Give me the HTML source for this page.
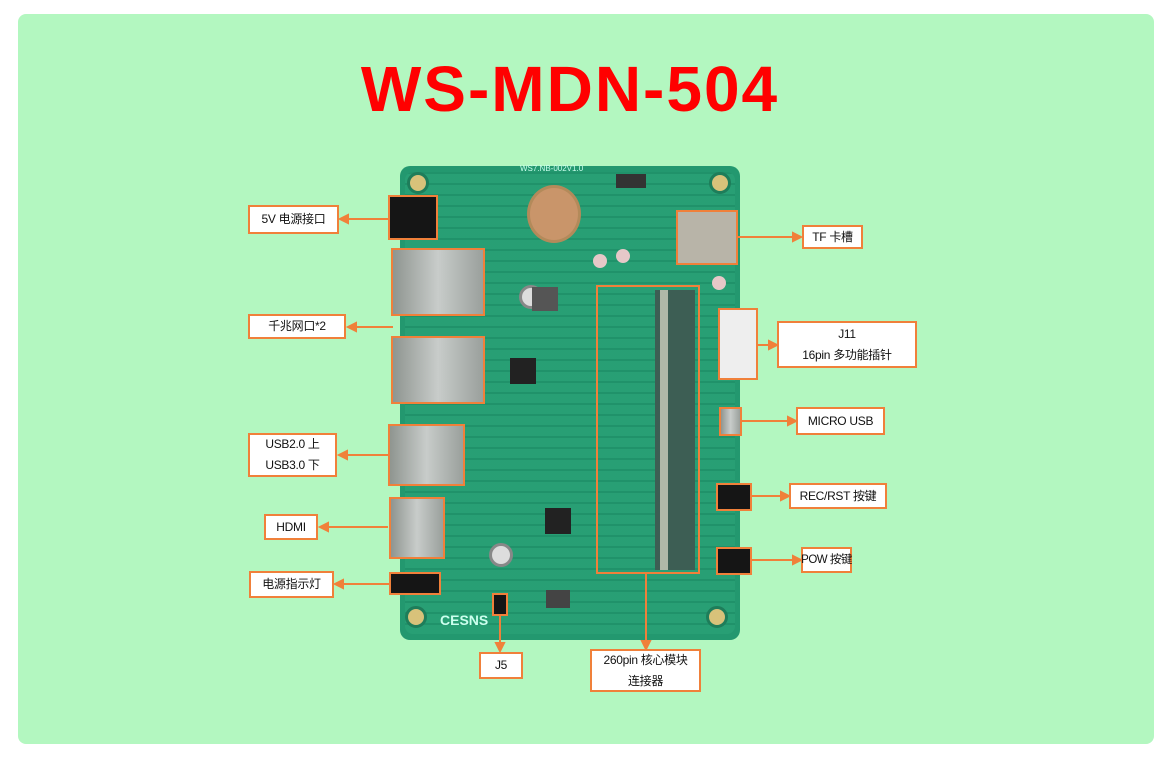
<!DOCTYPE html>
<html><head><meta charset="utf-8"><style>
body{margin:0;width:1171px;height:758px;background:#fff;position:relative;overflow:hidden;font-family:"Liberation Sans","Noto Sans CJK SC",sans-serif}
.a{position:absolute}
.panel{left:18px;top:14px;width:1136px;height:730px;background:#b3f7c0;border-radius:8px}
.title{left:0;width:1140px;top:52px;text-align:center;color:#f00;font-weight:bold;font-size:64px;letter-spacing:2px}
.lb{position:absolute;background:#fff;border:2px solid #f0803a;font-size:12px;color:#111;display:flex;align-items:center;justify-content:center;text-align:center;line-height:21px;box-sizing:border-box;white-space:nowrap;letter-spacing:-0.3px}
.silver{background:linear-gradient(90deg,#8f9590,#c8ccca 50%,#9aa09c);border:2px solid #f0803a;box-sizing:border-box}
.blk{background:#151515;border:2px solid #f0803a;box-sizing:border-box}
.hole{border-radius:50%;background:#d8c27a;border:3px solid #1e7d5a;box-sizing:border-box}
</style></head><body>
<div class="a panel"></div>
<div class="a title">WS-MDN-504</div>
<div class="a" style="left:400px;top:166px;width:340px;height:474px;background:#23986f;border-radius:10px"></div>
<div class="a" style="left:405px;top:172px;width:330px;height:462px;background:repeating-linear-gradient(0deg,#2aa277 0 9px,#1f8f68 9px 11px);opacity:.7;border-radius:8px"></div>
<div class="a hole" style="left:407px;top:172px;width:22px;height:22px"></div>
<div class="a hole" style="left:709px;top:172px;width:22px;height:22px"></div>
<div class="a hole" style="left:405px;top:606px;width:22px;height:22px"></div>
<div class="a hole" style="left:706px;top:606px;width:22px;height:22px"></div>
<div class="a" style="left:527px;top:185px;width:48px;height:52px;border-radius:50%;background:#c9956a;border:3px solid #b38a5a"></div>
<div class="a" style="left:519px;top:285px;width:18px;height:18px;border-radius:50%;background:#ddd;border:3px solid #888"></div>
<div class="a" style="left:489px;top:543px;width:18px;height:18px;border-radius:50%;background:#ddd;border:3px solid #888"></div>
<div class="a" style="left:510px;top:358px;width:26px;height:26px;background:#222"></div>
<div class="a" style="left:545px;top:508px;width:26px;height:26px;background:#222"></div>
<div class="a" style="left:532px;top:287px;width:26px;height:24px;background:#555"></div>
<div class="a" style="left:593px;top:254px;width:14px;height:14px;border-radius:50%;background:#e6c8c8"></div>
<div class="a" style="left:616px;top:249px;width:14px;height:14px;border-radius:50%;background:#e6c8c8"></div>
<div class="a" style="left:712px;top:276px;width:14px;height:14px;border-radius:50%;background:#e6c8c8"></div>
<div class="a" style="left:616px;top:174px;width:30px;height:14px;background:#333"></div>
<div class="a" style="left:440px;top:612px;color:#cfe;font-weight:bold;font-size:14px">CESNS</div>
<div class="a" style="left:520px;top:164px;color:#cfe;font-size:8px">WS7.NB-002V1.0</div>
<div class="a" style="left:546px;top:590px;width:24px;height:18px;background:#444"></div>
<div class="a blk" style="left:388px;top:195px;width:50px;height:45px"></div>
<div class="a silver" style="left:391px;top:248px;width:94px;height:68px"></div>
<div class="a silver" style="left:391px;top:336px;width:94px;height:68px"></div>
<div class="a silver" style="left:388px;top:424px;width:77px;height:62px"></div>
<div class="a silver" style="left:389px;top:497px;width:56px;height:62px"></div>
<div class="a blk" style="left:389px;top:572px;width:52px;height:23px"></div>
<div class="a blk" style="left:492px;top:593px;width:16px;height:23px"></div>
<div class="a silver" style="left:676px;top:210px;width:62px;height:55px;background:#b8b4a8"></div>
<div class="a" style="left:718px;top:308px;width:40px;height:72px;background:#eee;border:2px solid #f0803a;box-sizing:border-box"></div>
<div class="a silver" style="left:719px;top:407px;width:23px;height:29px"></div>
<div class="a blk" style="left:716px;top:483px;width:36px;height:28px"></div>
<div class="a blk" style="left:716px;top:547px;width:36px;height:28px"></div>
<div class="a" style="left:596px;top:285px;width:104px;height:289px;border:2px solid #f0803a;box-sizing:border-box"></div>
<div class="a" style="left:655px;top:290px;width:40px;height:280px;background:#3d5e54"></div>
<div class="a" style="left:660px;top:290px;width:8px;height:280px;background:#b0b8a8"></div>
<svg class="a" style="left:0;top:0" width="1171" height="758">
<g stroke="#f0803a" stroke-width="2" fill="#f0803a">
<line x1="388" y1="219" x2="345" y2="219"/><polygon points="340,219 348,215 348,223"/>
<line x1="393" y1="327" x2="353" y2="327"/><polygon points="348,327 356,323 356,331"/>
<line x1="388" y1="455" x2="344" y2="455"/><polygon points="339,455 347,451 347,459"/>
<line x1="388" y1="527" x2="325" y2="527"/><polygon points="320,527 328,523 328,531"/>
<line x1="389" y1="584" x2="340" y2="584"/><polygon points="335,584 343,580 343,588"/>
<line x1="500" y1="616" x2="500" y2="645"/><polygon points="500,651 496,643 504,643"/>
<line x1="646" y1="574" x2="646" y2="643"/><polygon points="646,649 642,641 650,641"/>
<line x1="738" y1="237" x2="796" y2="237"/><polygon points="801,237 793,233 793,241"/>
<line x1="758" y1="345" x2="771" y2="345"/><polygon points="777,345 769,341 769,349"/>
<line x1="742" y1="421" x2="790" y2="421"/><polygon points="796,421 788,417 788,425"/>
<line x1="752" y1="496" x2="783" y2="496"/><polygon points="789,496 781,492 781,500"/>
<line x1="752" y1="560" x2="795" y2="560"/><polygon points="801,560 793,556 793,564"/>
</g></svg>
<div class="lb" style="left:248px;top:205px;width:91px;height:29px">5V 电源接口</div>
<div class="lb" style="left:248px;top:314px;width:98px;height:25px">千兆网口*2</div>
<div class="lb" style="left:248px;top:433px;width:89px;height:44px;white-space:normal">USB2.0 上<br>USB3.0 下</div>
<div class="lb" style="left:264px;top:514px;width:54px;height:26px">HDMI</div>
<div class="lb" style="left:249px;top:571px;width:85px;height:27px">电源指示灯</div>
<div class="lb" style="left:479px;top:652px;width:44px;height:27px">J5</div>
<div class="lb" style="left:590px;top:649px;width:111px;height:43px;white-space:normal">260pin 核心模块<br>连接器</div>
<div class="lb" style="left:802px;top:225px;width:61px;height:24px">TF 卡槽</div>
<div class="lb" style="left:777px;top:321px;width:140px;height:47px;white-space:normal">J11<br>16pin 多功能插针</div>
<div class="lb" style="left:796px;top:407px;width:89px;height:28px">MICRO USB</div>
<div class="lb" style="left:789px;top:483px;width:98px;height:26px">REC/RST 按键</div>
<div class="lb" style="left:801px;top:547px;width:51px;height:26px;font-size:11.5px;letter-spacing:-0.5px">POW 按键</div>
</body></html>
